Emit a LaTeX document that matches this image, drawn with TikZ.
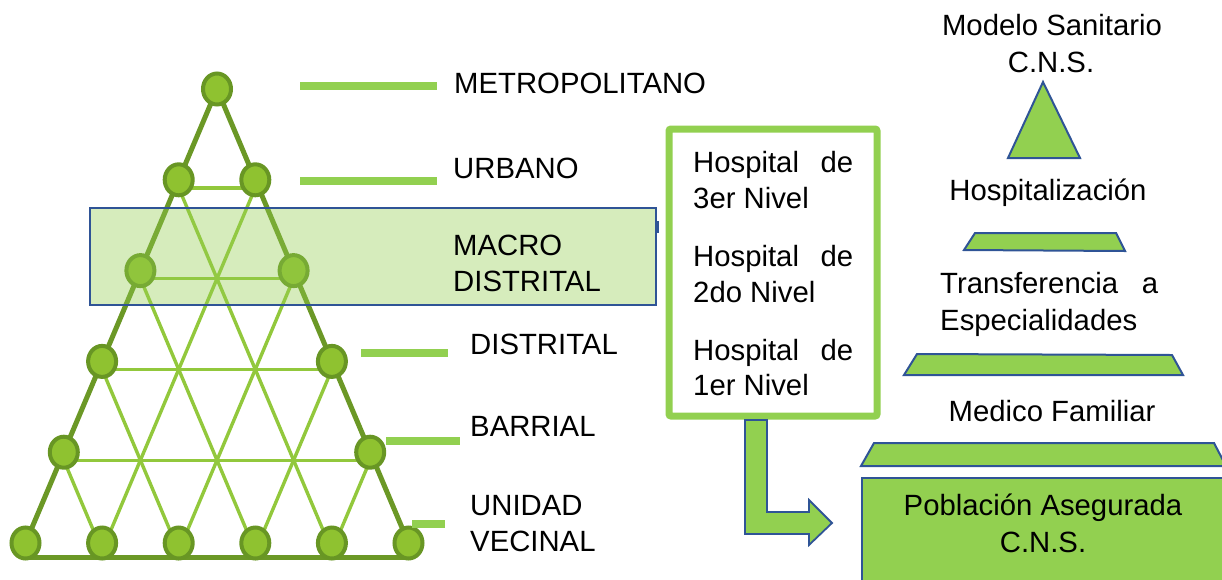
\documentclass[tikz,border=0pt]{standalone}
\usepackage{fontspec}
\usetikzlibrary{shapes.geometric}
\setmainfont{Liberation Sans}
\definecolor{bar}{RGB}{146,208,80}
\definecolor{blueb}{RGB}{47,84,150}
\definecolor{dk}{RGB}{107,152,38}
\definecolor{lt}{RGB}{146,200,60}
\definecolor{nf}{RGB}{143,194,48}
\definecolor{nd}{RGB}{104,150,36}
\definecolor{bandc}{RGB}{146,204,80}
\tikzset{
  lbl/.style={inner sep=0pt, text height=21pt, text depth=0pt, font=\fontsize{29.3}{35}\selectfont},
  lvlbar/.style={draw=bar, line width=7.5pt},
  outerline/.style={draw=dk, line width=5pt},
  latline/.style={draw=lt, line width=3.4pt},
  dot/.style={ellipse, fill=nf, draw=nd, line width=4pt, minimum width=28pt, minimum height=31pt, inner sep=0pt},
  shapefill/.style={fill=bar, draw=blueb, line width=2pt, line join=miter},
}
\begin{document}
\begin{tikzpicture}[x=1pt,y=-1pt]
\useasboundingbox (0,0) rectangle (1222,579);
\def\ax{217}\def\ay{89}\def\dx{38.3}\def\dy{90.8}
% lattice coordinates
\foreach \k in {0,...,5}{
  \foreach \j in {0,...,\k}{
    \coordinate (p-\k-\j) at ({\ax+(2*\j-\k)*\dx},{\ay+\k*\dy});
  }
}
% light inner lattice
\foreach \k in {1,...,4}{
  \pgfmathtruncatemacro\r{5-\k}
  \draw[latline] ([yshift=-8pt]p-\k-0) -- ([yshift=-8pt]p-\k-\k);
  \draw[latline] ([yshift=-8pt]p-\k-0) -- ([yshift=-8pt]p-5-\r);
  \draw[latline] ([yshift=-8pt]p-\k-\k) -- ([yshift=-8pt]p-5-\k);
}
% outer dark lines
\draw[outerline] (p-5-0) -- (p-0-0) -- (p-5-5);
\draw[outerline] ([yshift=-14pt]p-5-0) -- ([yshift=-14pt]p-5-5);
% nodes
\node[dot] (n-0-0) at (p-0-0) {};
\foreach \k in {1,...,4}{
  \node[dot] (n-\k-0) at (p-\k-0) {};
  \node[dot] (n-\k-\k) at (p-\k-\k) {};
}
\foreach \j in {0,...,5}{
  \node[dot] (n-5-\j) at (p-5-\j) {};
}
% macro band
\node[draw=blueb, line width=2pt, fill=bandc, fill opacity=0.38, minimum width=566pt, minimum height=97pt, inner sep=0pt] (band) at (373,256.5) {};
\draw[blueb, line width=3pt] (band.east) ++(0,-24) -- ++(0,-12);
% level bars
\coordinate (b1a) at (300,86); \coordinate (b1b) at (437,86);
\coordinate (b2a) at (300,181); \coordinate (b2b) at (437,181);
\coordinate (b3a) at (361,353); \coordinate (b3b) at (448,353);
\coordinate (b4a) at (386,441); \coordinate (b4b) at (460,441);
\coordinate (b5a) at (412,524); \coordinate (b5b) at (445,524);
\draw[lvlbar] (b1a) -- (b1b);
\draw[lvlbar] (b2a) -- (b2b);
\draw[lvlbar] (b3a) -- (b3b);
\draw[lvlbar] (b4a) -- (b4b);
\draw[lvlbar] (b5a) -- (b5b);
% level labels
\node[lbl, anchor=west] (lmet) at (454,83) {METROPOLITANO};
\node[lbl, anchor=west] (lurb) at (453,168) {URBANO};
\node[lbl, anchor=west] (lmac1) at (453,245) {MACRO};
\node[lbl, anchor=west] (lmac2) at (453,281) {DISTRITAL};
\node[lbl, anchor=west] (ldis) at (470,344) {DISTRITAL};
\node[lbl, anchor=west] (lbar) at (470,426) {BARRIAL};
\node[lbl, anchor=west] (luv1) at (470,505) {UNIDAD};
\node[lbl, anchor=west] (luv2) at (470,541) {VECINAL};
% hospital box
\node[draw=bar, line width=7pt, rounded corners=2pt, minimum width=208pt, minimum height=287pt, inner sep=0pt] (hosp) at (773,272.5) {};
\node[lbl, anchor=west] (h1a) at (693,162) {\makebox[160pt][s]{Hospital\hfill de}};
\node[lbl, anchor=west] (h1b) at (693,198) {3er Nivel};
\node[lbl, anchor=west] (h2a) at (693,256) {\makebox[160pt][s]{Hospital\hfill de}};
\node[lbl, anchor=west] (h2b) at (693,292) {2do Nivel};
\node[lbl, anchor=west] (h3a) at (693,350) {\makebox[160pt][s]{Hospital\hfill de}};
\node[lbl, anchor=west] (h3b) at (693,385) {1er Nivel};
% bent arrow
\draw[shapefill, line width=1.8pt] (745,420) -- (767,420) -- (767,512) -- (809,512) -- (809,500) -- (832,523) -- (809,545) -- (809,534) -- (745,534) -- cycle;
% right pyramid
\node[lbl, anchor=center] (ms1) at (1052,25) {Modelo Sanitario};
\node[lbl, anchor=center] (ms2) at (1051,62) {C.N.S.};
\draw[shapefill] (1043,82) -- (1080,158) -- (1008,158) -- cycle;
\node[lbl, anchor=center] (hz) at (1048,190) {Hospitalización};
\draw[shapefill] (975,233) -- (1116,233) -- (1125,251) -- (964,250) -- cycle;
\node[lbl, anchor=west] (tr1) at (940,283) {\makebox[218pt][s]{Transferencia\hfill a}};
\node[lbl, anchor=west] (tr2) at (940,320) {Especialidades};
\draw[shapefill] (917,354) -- (1172,355) -- (1183,375) -- (904,375) -- cycle;
\node[lbl, anchor=center] (mf) at (1052,411) {Medico Familiar};
\draw[shapefill] (874,443) -- (1214,443) -- (1226,466) -- (861,466) -- cycle;
\node[shapefill, minimum width=372pt, minimum height=114pt, inner sep=0pt] (pob) at (1048,535) {};
\node[lbl, anchor=center] (pa1) at (1043,505) {Población Asegurada};
\node[lbl, anchor=center] (pa2) at (1043,542) {C.N.S.};
\end{tikzpicture}
\end{document}
